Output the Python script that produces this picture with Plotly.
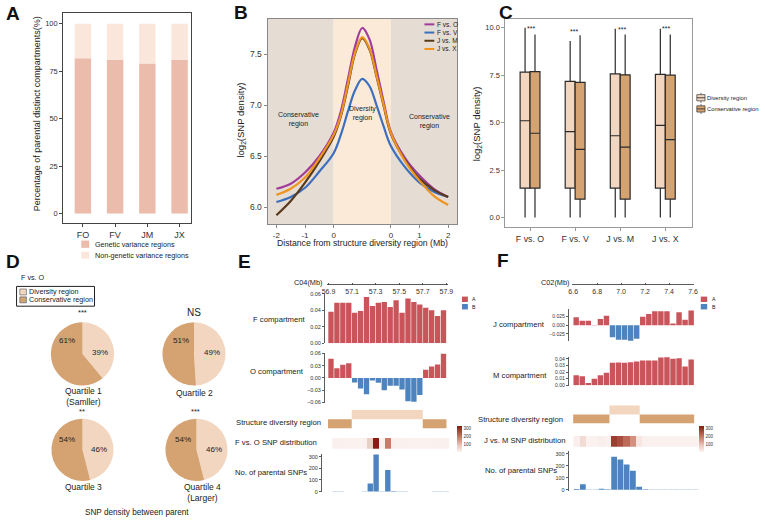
import plotly.graph_objects as go

W, H = 765, 523
def fx(p): return p / W
def fy(p): return 1 - p / H
def dx(a, b): return [fx(a), fx(b)]
def dy(top, bottom): return [fy(bottom), fy(top)]

FONT = "Liberation Sans, Arial, sans-serif"
TXT = "#222222"

# ---------------- Data ----------------
# Panel A
A_groups = ["FO", "FV", "JM", "JX"]
A_genetic = [81.8, 81.0, 79.0, 81.0]
A_nongenetic = [18.2, 19.0, 21.0, 19.0]
A_yticks = [0, 25, 50, 75, 100]

# Panel B (x in display units: -2..0 conservative, 0..2 diversity, 2..4 conservative)
B_x = [-2, -1.5, -1, -0.5, 0, 0.25, 0.5, 0.75, 1, 1.25, 1.5, 1.75, 2, 2.5, 3, 3.5, 4]
B_FO = [6.18, 6.23, 6.34, 6.50, 6.73, 6.94, 7.26, 7.58, 7.76, 7.65, 7.35, 7.03, 6.74, 6.48, 6.31, 6.18, 6.10]
B_FV = [6.05, 6.10, 6.19, 6.35, 6.53, 6.71, 6.94, 7.15, 7.26, 7.19, 7.00, 6.79, 6.60, 6.39, 6.24, 6.15, 6.10]
B_JM = [5.92, 6.06, 6.24, 6.45, 6.69, 6.89, 7.19, 7.51, 7.66, 7.55, 7.28, 6.99, 6.72, 6.46, 6.28, 6.17, 6.10]
B_JX = [6.12, 6.18, 6.29, 6.48, 6.71, 6.90, 7.21, 7.52, 7.67, 7.56, 7.29, 7.00, 6.73, 6.45, 6.26, 6.11, 6.02]
B_names = ["F vs. O", "F vs. V", "J vs. M", "J vs. X"]
B_tickvals = [-2, -1, 0, 2, 3, 4]
B_ticktext = ["-2", "-1", "0", "0", "1", "2"]
B_yticks = [6.0, 6.5, 7.0, 7.5]

# Panel C
C_pairs = ["F vs. O", "F vs. V", "J vs. M", "J vs. X"]
C_div_low = [0.0, 0.0, 0.0, 0.0]
C_div_q1 = [1.55, 1.55, 1.55, 1.55]
C_div_med = [5.10, 4.53, 4.31, 4.86]
C_div_q3 = [7.66, 7.17, 7.57, 7.54]
C_div_high = [10.0, 9.30, 9.95, 9.95]
C_con_low = [0.0, 0.0, 0.0, 0.0]
C_con_q1 = [1.55, 0.97, 0.97, 0.97]
C_con_med = [4.44, 3.59, 3.71, 4.10]
C_con_q3 = [7.69, 7.12, 7.52, 7.50]
C_con_high = [9.65, 9.60, 9.65, 9.65]
C_sig = ["***", "***", "***", "***"]
C_yticks = [0, 2.5, 5, 7.5, 10]

# Panel D
D_quartiles = ["Quartile 1<br>(Samller)", "Quartile 2", "Quartile 3", "Quartile 4<br>(Larger)"]
D_diversity = [39, 49, 46, 46]
D_conservative = [61, 51, 54, 54]
D_sig = ["***", "NS", "**", "***"]

# Panel E (C04, 0.05 Mb bins)
E_bins = [56.925, 56.975, 57.025, 57.075, 57.125, 57.175, 57.225, 57.275, 57.325, 57.375,
          57.425, 57.475, 57.525, 57.575, 57.625, 57.675, 57.725, 57.775, 57.825, 57.875]
E_Fcomp = [0.038, 0.049, 0.049, 0.049, 0.037, 0.039, 0.056, 0.045, 0.049, 0.050,
           0.044, 0.052, 0.037, 0.054, 0.050, 0.047, 0.043, 0.040, 0.033, 0.040]
E_Ocomp = [0.047, 0.024, 0.032, 0.036, -0.011, -0.026, -0.040, -0.006, -0.012, -0.030,
           -0.019, -0.019, -0.028, -0.057, -0.058, -0.042, 0.020, 0.028, 0.033, 0.059]
E_snps = [3, 3, 2, 1, 2, 3, 70, 320, 4, 185, 6, 4, 3, 2, 1, 1, 1, 3, 4, 3]
E_region_start = [56.9, 57.1, 57.7]
E_region_end = [57.1, 57.7, 57.9]
E_region_kind = ["Conservative", "Diversity", "Conservative"]
E_ticks = [56.9, 57.1, 57.3, 57.5, 57.7, 57.9]

# Panel F (C02, 0.05 Mb bins)
F_bins = [6.625, 6.675, 6.725, 6.775, 6.825, 6.875, 6.925, 6.975, 7.025, 7.075,
          7.125, 7.175, 7.225, 7.275, 7.325, 7.375, 7.425, 7.475, 7.525, 7.575]
F_Jcomp = [0.023, 0.013, 0.013, 0.001, 0.018, 0.028, -0.035, -0.042, -0.042, -0.045,
           -0.039, 0.025, 0.033, 0.041, 0.041, 0.041, 0.005, 0.038, 0.016, 0.043]
F_Mcomp = [0.015, 0.0135, 0.0035, 0.010, 0.015, 0.019, 0.034, 0.0345, 0.034, 0.035,
           0.036, 0.0375, 0.0375, 0.0375, 0.042, 0.0425, 0.040, 0.041, 0.0285, 0.039]
F_snps = [5, 45, 2, 2, 8, 3, 275, 252, 210, 157, 25, 3, 2, 2, 1, 1, 1, 1, 2, 2]
F_region_start = [6.6, 6.9, 7.15]
F_region_end = [6.9, 7.15, 7.6]
F_region_kind = ["Conservative", "Diversity", "Conservative"]
F_ticks = [6.6, 6.8, 7.0, 7.2, 7.4, 7.6]

# ---------------- Styles ----------------
COL_GEN = "#EBBBAB"
COL_NONGEN = "#FBE6DC"
COL_DIV = "#F2D6C0"
COL_CON = "#D5A272"
COL_A = "#C9555B"
COL_B = "#4D84BF"
B_colors = ["#A23C9B", "#3C70BE", "#5A3A1C", "#EE9420"]
HEAT_SCALE = [[0, "#FBF2F0"], [0.25, "#EBC8BE"], [0.55, "#CC806D"], [1, "#861A0F"]]

fig = go.Figure()

# ---- A: stacked bars
fig.add_trace(go.Bar(x=A_groups, y=A_genetic, marker=dict(color=COL_GEN, line=dict(width=0)),
                     width=0.51, xaxis="x", yaxis="y", showlegend=False, hoverinfo="skip"))
fig.add_trace(go.Bar(x=A_groups, y=A_nongenetic, marker=dict(color=COL_NONGEN, line=dict(width=0)),
                     width=0.51, xaxis="x", yaxis="y", showlegend=False, hoverinfo="skip"))

# ---- B: lines
for vals, col, nm in [(B_FV, B_colors[1], B_names[1]), (B_FO, B_colors[0], B_names[0]),
                      (B_JM, B_colors[2], B_names[2]), (B_JX, B_colors[3], B_names[3])]:
    fig.add_trace(go.Scatter(x=B_x, y=vals, mode="lines", name=nm,
                             line=dict(color=col, width=2.2, shape="spline", smoothing=1.0),
                             xaxis="x2", yaxis="y2", showlegend=False, hoverinfo="skip"))

# ---- C: box plots
fig.add_trace(go.Box(x=C_pairs, q1=C_div_q1, median=C_div_med, q3=C_div_q3,
                     lowerfence=C_div_low, upperfence=C_div_high, name="Diversity region",
                     fillcolor=COL_DIV, line=dict(color="#2a2a2a", width=1.2), whiskerwidth=0,
                     boxpoints=False, offsetgroup="div", xaxis="x3", yaxis="y3",
                     showlegend=False, hoverinfo="skip"))
fig.add_trace(go.Box(x=C_pairs, q1=C_con_q1, median=C_con_med, q3=C_con_q3,
                     lowerfence=C_con_low, upperfence=C_con_high, name="Conservative region",
                     fillcolor=COL_CON, line=dict(color="#2a2a2a", width=1.2), whiskerwidth=0,
                     boxpoints=False, offsetgroup="con", xaxis="x3", yaxis="y3",
                     showlegend=False, hoverinfo="skip"))

# ---- D: pies
pie_centers = [(78.5, 355, 32), (191.5, 355, 32), (78.5, 452, 31.5), (194, 452, 31.5)]
for i, (cx, cy, r) in enumerate(pie_centers):
    fig.add_trace(go.Pie(values=[D_diversity[i], D_conservative[i]],
                         labels=["Diversity region", "Conservative region"],
                         marker=dict(colors=[COL_DIV, COL_CON], line=dict(width=0)),
                         sort=False, direction="clockwise", rotation=0, textinfo="none",
                         hoverinfo="skip", showlegend=False,
                         domain=dict(x=dx(cx - r, cx + r), y=dy(cy - r, cy + r))))

# ---- E & F helpers
def comp_colors(vals):
    return [COL_A if v >= 0 else COL_B for v in vals]

def region_bars(starts, ends, kinds, xa, ya):
    mids = [(s + e) / 2 for s, e in zip(starts, ends)]
    widths = [e - s for s, e in zip(starts, ends)]
    bases = [1 if k == "Diversity" else 0 for k in kinds]
    cols = [COL_DIV if k == "Diversity" else COL_CON for k in kinds]
    return go.Bar(x=mids, y=[1] * len(mids), base=bases, width=widths,
                  marker=dict(color=cols, line=dict(width=0)), xaxis=xa, yaxis=ya,
                  showlegend=False, hoverinfo="skip")

def heat(bins, counts, xa, ya, cbx):
    return go.Heatmap(x=bins, y=[0], z=[counts], colorscale=HEAT_SCALE, zmin=0, zmax=325,
                      xaxis=xa, yaxis=ya, hoverinfo="skip",
                      colorbar=dict(x=fx(cbx), xanchor="left", y=fy(441), yanchor="middle",
                                    len=26, lenmode="pixels", thickness=5, outlinewidth=0,
                                    xpad=0, ypad=0, tickvals=[100, 200, 300], ticks="",
                                    tickfont=dict(family=FONT, size=4.5, color="#333")))

# E ruler dummy
fig.add_trace(go.Scatter(x=[E_ticks[0], E_ticks[-1]], y=[0.5, 0.5], mode="markers",
                         marker=dict(opacity=0), xaxis="x4", yaxis="y4", showlegend=False, hoverinfo="skip"))
fig.add_trace(go.Bar(x=E_bins, y=E_Fcomp, width=0.045, marker=dict(color=comp_colors(E_Fcomp), line=dict(width=0)),
                     xaxis="x5", yaxis="y5", showlegend=False, hoverinfo="skip"))
fig.add_trace(go.Bar(x=E_bins, y=E_Ocomp, width=0.045, marker=dict(color=comp_colors(E_Ocomp), line=dict(width=0)),
                     xaxis="x6", yaxis="y6", showlegend=False, hoverinfo="skip"))
fig.add_trace(region_bars(E_region_start, E_region_end, E_region_kind, "x7", "y7"))
fig.add_trace(heat(E_bins, E_snps, "x8", "y8", 458))
fig.add_trace(go.Bar(x=E_bins, y=E_snps, width=0.046, marker=dict(color=COL_B, line=dict(width=0)),
                     xaxis="x9", yaxis="y9", showlegend=False, hoverinfo="skip"))

# F
fig.add_trace(go.Scatter(x=[F_ticks[0], F_ticks[-1]], y=[0.5, 0.5], mode="markers",
                         marker=dict(opacity=0), xaxis="x10", yaxis="y10", showlegend=False, hoverinfo="skip"))
fig.add_trace(go.Bar(x=F_bins, y=F_Jcomp, width=0.045, marker=dict(color=comp_colors(F_Jcomp), line=dict(width=0)),
                     xaxis="x11", yaxis="y11", showlegend=False, hoverinfo="skip"))
fig.add_trace(go.Bar(x=F_bins, y=F_Mcomp, width=0.045, marker=dict(color=comp_colors(F_Mcomp), line=dict(width=0)),
                     xaxis="x12", yaxis="y12", showlegend=False, hoverinfo="skip"))
fig.add_trace(region_bars(F_region_start, F_region_end, F_region_kind, "x13", "y13"))
fig.add_trace(heat(F_bins, F_snps, "x14", "y14", 703))
fig.add_trace(go.Bar(x=F_bins, y=F_snps, width=0.046, marker=dict(color=COL_B, line=dict(width=0)),
                     xaxis="x15", yaxis="y15", showlegend=False, hoverinfo="skip"))

# ---------------- Axes ----------------
def frame(lc, **kw):
    d = dict(showline=True, mirror=True, linewidth=1, linecolor=lc, ticks="outside", ticklen=3,
             tickwidth=1, tickcolor=lc, showgrid=False, zeroline=False, fixedrange=True,
             tickfont=dict(family=FONT, size=8.5, color="#333"))
    d.update(kw)
    return d

def small_y(dom, rng, tv, tt, anchor, size=5.5):
    return dict(domain=dom, range=rng, tickvals=tv, ticktext=tt, anchor=anchor, showline=True,
                linecolor="#333", linewidth=0.8, ticks="outside", ticklen=2, tickwidth=0.8,
                tickcolor="#333", showgrid=False, zeroline=False, fixedrange=True,
                tickfont=dict(family=FONT, size=size, color="#333"))

def hidden(dom, rng, anchor):
    return dict(domain=dom, range=rng, anchor=anchor, visible=False, showgrid=False,
                zeroline=False, fixedrange=True)

def ruler(dom, rng, ticks, anchor):
    return dict(domain=dom, range=rng, anchor=anchor, showline=True, linecolor="#333", linewidth=0.8,
                ticks="inside", ticklen=2, tickwidth=0.8, tickcolor="#333", tickvals=ticks,
                ticktext=[f"{t:.1f}" for t in ticks], showgrid=False, zeroline=False, fixedrange=True,
                tickfont=dict(family=FONT, size=7, color="#333"))

layout_axes = dict(
    xaxis=frame("#444", domain=dx(59, 188), range=[-0.61, 3.34], anchor="y", ticklen=2.5,
                tickfont=dict(family=FONT, size=9, color="#333")),
    yaxis=frame("#444", domain=dy(10, 223), range=[-5.2, 105.7], anchor="x", tickvals=A_yticks,
                tickfont=dict(family=FONT, size=7.5, color="#333")),
    xaxis2=frame("#888", domain=dx(266, 458), range=[-2.31, 4.31], anchor="y2", ticklen=2.5,
                 tickvals=B_tickvals, ticktext=B_ticktext,
                 tickfont=dict(family=FONT, size=8, color="#333")),
    yaxis2=frame("#888", domain=dy(16, 224), range=[5.83, 7.85], anchor="x2", tickvals=B_yticks,
                 ticktext=[f"{v:.1f}" for v in B_yticks]),
    xaxis3=frame("#999", domain=dx(507, 696), range=[-0.547, 3.59], anchor="y3",
                 tickfont=dict(family=FONT, size=8.8, color="#333")),
    yaxis3=frame("#999", domain=dy(16, 227), range=[-0.52, 10.47], anchor="x3", tickvals=C_yticks,
                 ticktext=[f"{v:.1f}" for v in C_yticks],
                 tickfont=dict(family=FONT, size=7.5, color="#333")),
    # E
    xaxis4=ruler(dx(326, 449), [56.885, 57.915], E_ticks, "y4"),
    yaxis4=hidden(dy(283.8, 284.8), [0, 1], "x4"),
    xaxis5=hidden(dx(324, 448), [56.8725, 57.9058], "y5"),
    yaxis5=small_y(dy(294, 344.3), [0, 0.06], [0, 0.02, 0.04, 0.06], ["0.00", "0.02", "0.04", "0.06"], "x5"),
    xaxis6=hidden(dx(324, 448), [56.8725, 57.9058], "y6"),
    yaxis6=small_y(dy(354, 405), [-0.0622, 0.0612], [-0.06, -0.03, 0, 0.03, 0.06],
                   ["\u22120.06", "\u22120.03", "0.00", "0.03", "0.06"], "x6"),
    xaxis7=hidden(dx(324, 448), [56.8725, 57.9058], "y7"),
    yaxis7=hidden(dy(411.5, 430.5), [0, 2], "x7"),
    xaxis8=hidden(dx(321, 452), [56.81, 57.917], "y8"),
    yaxis8=hidden(dy(440, 451), [-0.5, 0.5], "x8"),
    xaxis9=hidden(dx(321, 452), [56.81, 57.917], "y9"),
    yaxis9=small_y(dy(456, 495), [-6, 325.5], [0, 100, 200, 300], ["0", "100", "200", "300"], "x9"),
    # F
    xaxis10=ruler(dx(575, 698), [6.594, 7.607], F_ticks, "y10"),
    yaxis10=hidden(dy(283.8, 284.8), [0, 1], "x10"),
    xaxis11=hidden(dx(571, 699), [6.5617, 7.6057], "y11"),
    yaxis11=small_y(dy(310, 342), [-0.046, 0.046], [-0.025, 0, 0.025], ["\u22120.025", "0.000", "0.025"], "x11", 5),
    xaxis12=hidden(dx(571, 699), [6.5617, 7.6057], "y12"),
    yaxis12=small_y(dy(358, 387), [-0.0005, 0.043], [0, 0.01, 0.02, 0.03, 0.04],
                    ["0.00", "0.01", "0.02", "0.03", "0.04"], "x12", 5),
    xaxis13=hidden(dx(571, 699), [6.5617, 7.6057], "y13"),
    yaxis13=hidden(dy(407, 425.5), [0, 2], "x13"),
    xaxis14=hidden(dx(571, 704), [6.5605, 7.610], "y14"),
    yaxis14=hidden(dy(438, 449), [-0.5, 0.5], "x14"),
    xaxis15=hidden(dx(571, 704), [6.5605, 7.610], "y15"),
    yaxis15=small_y(dy(452.7, 493.5), [-10, 327], [0, 100, 200, 300], ["0", "100", "200", "300"], "x15"),
)

# ---------------- Shapes ----------------
shapes = []
def rect(x0, y0, x1, y1, fill, lc=None, lw=0, layer="above"):
    shapes.append(dict(type="rect", xref="paper", yref="paper", x0=fx(x0), x1=fx(x1), y0=fy(y0), y1=fy(y1),
                       fillcolor=fill, line=dict(color=lc or fill, width=lw), layer=layer))
def hline(x0, x1, y, col, w):
    shapes.append(dict(type="line", xref="paper", yref="paper", x0=fx(x0), x1=fx(x1), y0=fy(y), y1=fy(y),
                       line=dict(color=col, width=w)))
def vline(x, y0, y1, col, w):
    shapes.append(dict(type="line", xref="paper", yref="paper", x0=fx(x), x1=fx(x), y0=fy(y0), y1=fy(y1),
                       line=dict(color=col, width=w)))

# B backgrounds (data coords)
for x0, x1, col in [(-2.31, 0, "#E5DCD3"), (0, 2, "#FCEAD8"), (2, 4.31, "#E5DCD3")]:
    shapes.append(dict(type="rect", xref="x2", yref="y2 domain", x0=x0, x1=x1, y0=0, y1=1,
                       fillcolor=col, line=dict(width=0), layer="below"))

# A legend
rect(77.3, 240.3, 85.3, 247.7, COL_GEN)
rect(77.3, 251.7, 85.3, 258.7, COL_NONGEN)
# B legend
for i, col in enumerate(B_colors):
    hline(425, 435, 21.6 + 8.3 * i, col, 2)
# C legend glyphs
for i, col in enumerate([COL_DIV, COL_CON]):
    y0 = 92.7 + 11.3 * i
    vline(705.2, y0 - 1.8, y0, "#333", 0.7)
    vline(705.2, y0 + 6.3, y0 + 8.3, "#333", 0.7)
    rect(701, y0, 709.3, y0 + 6.3, col, "#333", 0.7)
    hline(701, 709.3, y0 + 3.15, "#333", 0.9)
# D legend
rect(11.7, 286.7, 90.7, 306.7, "rgba(0,0,0,0)", "#222", 1)
rect(15, 289.3, 21.7, 295.3, COL_DIV, "#555", 0.6)
rect(15, 297.3, 21.7, 303.3, COL_CON, "#555", 0.6)
# E / F compartment legends
rect(463, 297, 469, 302.5, COL_A)
rect(463, 304.5, 469, 310, COL_B)
rect(705, 297, 711.5, 302.5, COL_A)
rect(705, 304.5, 711.5, 310, COL_B)

# ---------------- Annotations ----------------
anns = []
def ann(text, x, y, size, xanchor="center", yanchor="middle", bold=False, angle=0, color=TXT):
    if bold:
        text = f"<b>{text}</b>"
    anns.append(dict(text=text, x=fx(x), y=fy(y), xref="paper", yref="paper", showarrow=False,
                     font=dict(family=FONT, size=size, color=color), xanchor=xanchor,
                     yanchor=yanchor, textangle=angle, borderpad=0))

# panel letters
for t, x, y in [("A", 8, 11), ("B", 239, 10), ("C", 508, 10), ("D", 8, 262), ("E", 243, 261), ("F", 505, 260)]:
    ann(t, x, y, 19, bold=True, color="#111")

# A
ann("Percentage of parental distinct compartments(%)", 32, 112, 9, angle=-90)
ann("Genetic variance regions", 90, 244, 7.2, xanchor="left")
ann("Non-genetic variance regions", 90, 255.3, 7.2, xanchor="left")
# B
ann("log<sub>2</sub>(SNP density)", 239, 118, 9.5, angle=-90)
ann("Distance from structure diversity region (Mb)", 362, 243, 8.7)
ann("Conservative<br>region", 297, 118, 7)
ann("Diversity<br>region", 362, 112, 7)
ann("Conservative<br>region", 430, 120, 7)
for i, nm in enumerate(B_names):
    ann(nm, 436.5, 21.6 + 8.3 * i, 6.5, xanchor="left")
# C
ann("log<sub>2</sub>(SNP density)", 478, 122, 9.5, angle=-90)
for i, s in enumerate(C_sig):
    ann(s, [533, 577, 625, 670][i], [25.5, 28.5, 27, 26][i], 7)
ann("Diversity region", 710.7, 95.8, 5.8, xanchor="left")
ann("Conservative region", 710.7, 107.2, 5.8, xanchor="left")
# D
ann("F vs. O", 15, 278, 7.2, xanchor="left")
ann("Diversity region", 23.3, 292.3, 7.2, xanchor="left")
ann("Conservative region", 23.3, 300.3, 7.2, xanchor="left")
sig_pos = [(78.5, 313), (192, 313), (78.5, 413), (193, 413)]
for i, s in enumerate(D_sig):
    ann(s, sig_pos[i][0], sig_pos[i][1], 10 if s == "NS" else 7.5)
q_pos = [(80, 397.7), (192.5, 395), (80, 490), (200, 495)]
for i, q in enumerate(D_quartiles):
    ann(q, q_pos[i][0], q_pos[i][1], 8.5)
con_pos = [(63, 341.7), (178, 341.7), (63, 441.7), (180, 441.7)]
div_pos = [(96.7, 353.3), (210, 354), (95, 451.7), (211.7, 451.7)]
for i in range(4):
    ann(f"{D_conservative[i]}%", con_pos[i][0], con_pos[i][1], 8)
    ann(f"{D_diversity[i]}%", div_pos[i][0], div_pos[i][1], 8)
ann("SNP density between parent", 133.5, 515.5, 8.2)
# E
ann("C04(Mb)", 322, 283, 7.3, xanchor="right")
ann("F compartment", 306, 320, 7.7, xanchor="right")
ann("O compartment", 304, 372.7, 7.7, xanchor="right")
ann("Structure diversity region", 320.7, 424, 7.7, xanchor="right")
ann("F vs. O SNP distribution", 316.7, 445, 7.7, xanchor="right")
ann("No. of parental SNPs", 307, 475, 7.7, xanchor="right")
ann("A", 472.3, 299.5, 5.2, xanchor="left")
ann("B", 472.3, 307.5, 5.2, xanchor="left")
# F
ann("C02(Mb)", 572, 283, 7.3, xanchor="right")
ann("J compartment", 548.5, 325, 7.7, xanchor="right")
ann("M compartment", 550, 376.7, 7.7, xanchor="right")
ann("Structure diversity region", 566.5, 421.7, 7.7, xanchor="right")
ann("J vs. M SNP distribution", 568, 443, 7.7, xanchor="right")
ann("No. of parental SNPs", 560, 473, 7.7, xanchor="right")
ann("A", 715, 299.5, 5.2, xanchor="left")
ann("B", 715, 307.5, 5.2, xanchor="left")

fig.update_layout(
    width=W, height=H, margin=dict(l=0, r=0, t=0, b=0),
    paper_bgcolor="white", plot_bgcolor="white",
    barmode="relative", boxmode="group", boxgap=0.56, boxgroupgap=0,
    font=dict(family=FONT, color=TXT), showlegend=False,
    shapes=shapes, annotations=anns, **layout_axes,
)

fig.write_html("out.html", config={"displayModeBar": False, "staticPlot": True},
               post_script="document.body.style.margin='0';document.body.style.overflow='hidden';")
